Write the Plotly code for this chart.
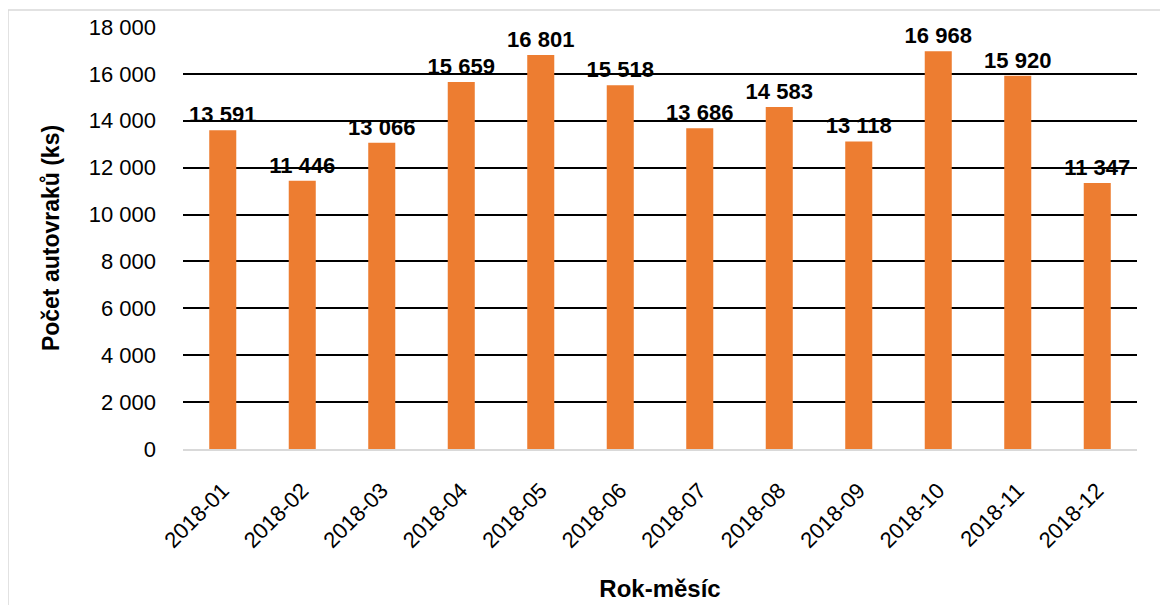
import plotly.graph_objects as go

months = ["2018-01", "2018-02", "2018-03", "2018-04", "2018-05", "2018-06",
          "2018-07", "2018-08", "2018-09", "2018-10", "2018-11", "2018-12"]
counts = [13591, 11446, 13066, 15659, 16801, 15518, 13686, 14583, 13118, 16968, 15920, 11347]
y_ticks = [0, 2000, 4000, 6000, 8000, 10000, 12000, 14000, 16000, 18000]

labels = [f"{v:,}".replace(",", " ") for v in counts]
tick_text = [f"{v:,}".replace(",", " ") for v in y_ticks]

FONT = "Liberation Sans, Arial, sans-serif"

W, H = 1168, 605
PW, PH = 954, 422
L, T = 175, 19

fig = go.Figure(go.Bar(
    x=months, y=counts,
    marker=dict(color="#ED7D31", line=dict(width=0)),
    text=labels, textposition="outside", cliponaxis=False,
    constraintext="none",
    textfont=dict(family=FONT, size=22, color="black", weight="bold"),
))

fig.update_layout(
    width=W, height=H,
    margin=dict(l=L, r=W - L - PW, t=T, b=H - T - PH, autoexpand=False),
    paper_bgcolor="white", plot_bgcolor="white",
    bargap=0.66,
    showlegend=False,
    font=dict(family=FONT, size=22, color="black"),
    shapes=[dict(type="rect", xref="paper", yref="paper",
                 x0=(0 - L) / PW, x1=(W + 20 - L) / PW,
                 y0=-(H + 20 - T - PH) / PH, y1=1 + (T - 2) / PH,
                 line=dict(color="#D9D9D9", width=1.5), fillcolor="rgba(0,0,0,0)",
                 layer="below")],
)

fig.update_yaxes(
    range=[0, 18000], tickvals=y_ticks, ticktext=tick_text,
    showgrid=True, gridcolor="black", gridwidth=1.5,
    zeroline=False, showline=False, automargin=False,
    ticks="", ticklabelstandoff=26,
    tickfont=dict(family=FONT, size=22, color="black"),
    title=dict(text="Počet autovraků (ks)", font=dict(family=FONT, size=23, color="black", weight="bold"), standoff=22),
)
fig.update_xaxes(
    type="category", automargin=False,
    showline=True, linecolor="#D9D9D9", linewidth=2,
    showgrid=False, ticks="", tickangle=-45, ticklabelstandoff=18,
    tickfont=dict(family=FONT, size=22, color="black"),
    title=dict(text="Rok-měsíc", font=dict(family=FONT, size=24, color="black", weight="bold"), standoff=28),
)

fig.write_html("out.html")
